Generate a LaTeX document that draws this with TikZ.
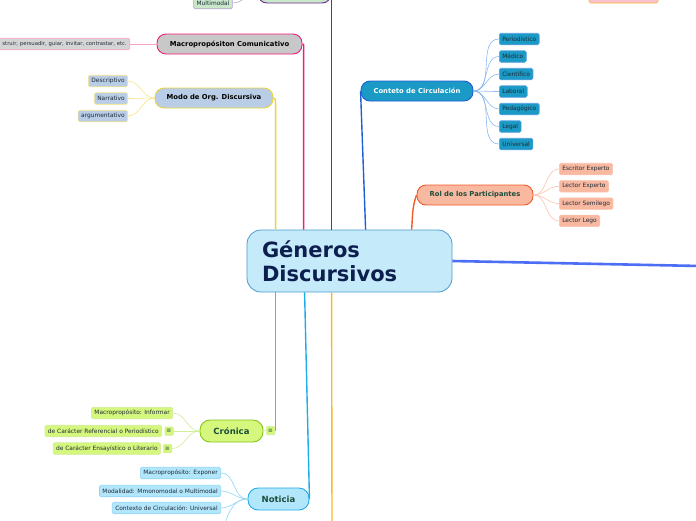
\documentclass[tikz,border=0pt]{standalone}
\usepackage{fontspec}
\setmainfont{DejaVu Sans}
\usetikzlibrary{positioning,calc}
\definecolor{cRootF}{HTML}{C5EAFA}
\definecolor{cRootB}{HTML}{4A9BD1}
\definecolor{cRootT}{HTML}{0D1F4F}
\definecolor{cPurple}{HTML}{6A2C91}
\definecolor{cModF}{HTML}{C9E8CA}
\definecolor{cMmB}{HTML}{B9A3CF}
\definecolor{cPink}{HTML}{F01C7E}
\definecolor{cPinkL}{HTML}{F4A3C6}
\definecolor{cGray}{HTML}{C8C8C8}
\definecolor{cGrayL}{HTML}{D4D4D4}
\definecolor{cYel}{HTML}{EBD53A}
\definecolor{cYelL}{HTML}{F6E58A}
\definecolor{cOrgF}{HTML}{B9CDE6}
\definecolor{cBlue}{HTML}{1F5FD6}
\definecolor{cCirF}{HTML}{1A9AC4}
\definecolor{cCirB}{HTML}{5AA2E6}
\definecolor{cCirL}{HTML}{8DB8F0}
\definecolor{cRed}{HTML}{F05A28}
\definecolor{cRolF}{HTML}{F8B9A0}
\definecolor{cRolL}{HTML}{FAC3AE}
\definecolor{cRolT}{HTML}{1D4D3B}
\definecolor{cThick}{HTML}{4B6EF5}
\definecolor{cLime}{RGB}{134,194,26}
\definecolor{cCroF}{HTML}{D5F77D}
\definecolor{cCroL}{HTML}{D2EC98}
\definecolor{cCya}{HTML}{20ACE8}
\definecolor{cNotF}{HTML}{B2E6FB}
\definecolor{cNotL}{HTML}{8ED5F5}
\definecolor{cOra}{HTML}{F9B92C}
\definecolor{cPinkF}{HTML}{F9C2D2}
\definecolor{cLeafT}{HTML}{1E2B3A}
\tikzset{root/.style={draw=cRootB, fill=cRootF, line width=0.8pt, rounded corners=14pt, minimum width=205pt, minimum height=62pt, text width=175pt, align=left, inner xsep=15pt, font=\fontsize{21}{24}\selectfont\bfseries, text=cRootT},
  branch/.style={draw=#1, line width=0.9pt, rounded corners=9pt, minimum height=20pt, inner sep=0pt, font=\fontsize{6.8}{8}\selectfont\bfseries},
  big/.style={minimum height=22pt, rounded corners=10pt, font=\fontsize{8.5}{9}\selectfont\bfseries},
  leaf/.style={draw=#1, line width=0.6pt, rounded corners=1.5pt, minimum height=11.5pt, inner xsep=3pt, inner ysep=0pt, font=\fontsize{5.9}{7}\selectfont, text=cLeafT},
  icon/.style={draw=cCroL, fill=cCroF, line width=0.5pt, rounded corners=1pt, minimum size=8.5pt, inner sep=0pt, font=\fontsize{6}{6}\selectfont, text=cRolT},
  link/.style={draw=#1, line width=0.6pt}, trunk/.style={draw=#1, line width=1.4pt}}
\begin{document}
\begin{tikzpicture}[x=1pt,y=-1pt]
\useasboundingbox (0,0) rectangle (696,520);
\clip (0,0) rectangle (696,520);
% ---- centre ----
\node[root] (root) at (349.5,261) {Géneros\\Discursivos};
\coordinate (tYel) at ([xshift=29pt]root.north west);
\coordinate (tPink) at ([xshift=57pt]root.north west);
\coordinate (tPur) at ([xshift=85pt]root.north west);
\coordinate (tBlu) at ([xshift=119pt]root.north west);
\coordinate (tRed) at ([xshift=165pt]root.north west);
\coordinate (bGrn) at ([xshift=29pt]root.south west);
\coordinate (bCya) at ([xshift=58pt]root.south west);
\coordinate (bOra) at ([xshift=85pt]root.south west);
\coordinate (rEnd) at (700,266);
\coordinate (bEnd) at (332,525);
\coordinate (nHid) at (222,532);
% ---- modalidad (top, cut) ----
\node[branch=cPurple, fill=cModF, minimum width=73pt] (modal) at (294.5,-7) {};
\node[leaf=cMmB, fill=cModF] (mm) at (213,3) {Multimodal};
\draw[link=cMmB] (mm.east) to[out=0,in=180] (modal.west);
\draw[trunk=cPurple] (modal.east) -| (tPur);
\node[leaf=cOra, fill=cPinkF, minimum width=69pt, minimum height=14pt] (orgi) at (623.5,-4) {};
% ---- macroproposito ----
\node[branch=cPink, fill=cGray, minimum width=145pt] (macro) at (229.5,44) {Macropropósiton Comunicativo};
\node[leaf=cPinkL, fill=cGrayL, anchor=east, text width=150pt, align=right, font=\fontsize{5.3}{6}\selectfont] (mfun) at (130,44) {struir, persuadir, guiar, invitar, contrastar, etc.};
\draw[link=cPinkL] (mfun.east) -- (macro.west);
\draw[trunk=cPink] (macro.east) .. controls +(2,0) and +(0,-8) .. (tPink |- macro.south) -- (tPink);
% ---- modo de organizacion ----
\node[branch=cYel, fill=cOrgF, minimum width=118pt] (modo) at (214,98) {Modo de Org. Discursiva};
\foreach \t/\y [count=\i] in {Descriptivo/81,Narrativo/98.5,argumentativo/116}{
  \node[leaf=cYelL, fill=cOrgF, anchor=east] (o\i) at (128,\y) {\t};
  \draw[link=cYelL] (modo.west) to[out=180,in=0] (o\i.east);}
\draw[trunk=cYel] (modo.east) .. controls +(2,0) and +(0,-8) .. (tYel |- modo.south) -- (tYel);
% ---- contexto de circulacion ----
\node[branch=cBlue, fill=cCirF, minimum width=112pt, text=white] (circ) at (417,91) {Conteto de Circulación};
\foreach \t [count=\i from 0] in {Periodístico,Médico,Científico,Laboral,Pedagógico,Legal,Universal}{
  \node[leaf=cCirB, fill=cCirF, anchor=west] (c\i) at (499,39+17.5*\i) {\t};
  \draw[link=cCirL] (circ.east) to[out=0,in=180] (c\i.west);}
\draw[trunk=cBlue] (circ.west) -- (tBlu);
% ---- rol de los participantes ----
\node[branch=cRed, fill=cRolF, minimum width=116pt, text=cRolT] (rol) at (475,195) {Rol de los Participantes};
\foreach \t [count=\i from 0] in {Escritor Experto,Lector Experto,Lector Semilego,Lector Lego}{
  \node[leaf=cRolL, fill=cRolF, anchor=west] (r\i) at (559,169+17.3*\i) {\t};
  \draw[link=cRolL] (rol.east) to[out=0,in=180] (r\i.west);}
\draw[trunk=cRed] (rol.west) to[out=-110,in=85] (tRed);
% ---- right and bottom trunks ----
\draw[cThick, line width=2.6pt] (root.east) -- (rEnd);
\draw[trunk=cOra] (bOra) -- (bEnd);
% ---- cronica ----
\node[branch=cLime, big, fill=cCroF, minimum width=63pt, text=cRolT] (cron) at (231.5,431) {Crónica};
\node[icon] (ci0) at (270.5,430.5) {≡};
\node[leaf=cCroL, fill=cCroF, anchor=east] (k1) at (173,413) {Macropropósito: Informar};
\node[leaf=cCroL, fill=cCroF, anchor=east] (k2) at (162,431) {de Carácter Referencial o Periodístico};
\node[icon] (ci2) at (169,431) {≡};
\node[leaf=cCroL, fill=cCroF, anchor=east] (k3) at (161,448.5) {de Carácter Ensayístico o Literario};
\node[icon] (ci3) at (167.5,448.5) {≡};
\draw[link=cCroL] (cron.west) to[out=180,in=0] (k1.east);
\draw[link=cCroL] (cron.west) -- (ci2.east);
\draw[link=cCroL] (cron.west) to[out=180,in=0] (ci3.east);
\draw[link=cCroL] (cron.east) -- (ci0.west);
\draw[draw=cLime, line width=1.6pt] (bGrn) |- (ci0.east);
% ---- noticia ----
\node[branch=cCya, big, fill=cNotF, minimum width=61pt, text=cRolT] (noti) at (278.5,499) {Noticia};
\foreach \t/\y [count=\i] in {Macropropósito: Exponer/473,Modalidad: Mmonomodal o Multimodal/491,Contexto de Circulación: Universal/508}{
  \node[leaf=cNotL, fill=cNotF, anchor=east] (n\i) at (221,\y) {\t};
  \draw[link=cNotL] (noti.west) to[out=180,in=0] (n\i.east);}
\draw[link=cNotL] (noti.west) to[out=180,in=70] (nHid);
\draw[trunk=cCya] (bCya) -- (noti.east);
\end{tikzpicture}
\end{document}
